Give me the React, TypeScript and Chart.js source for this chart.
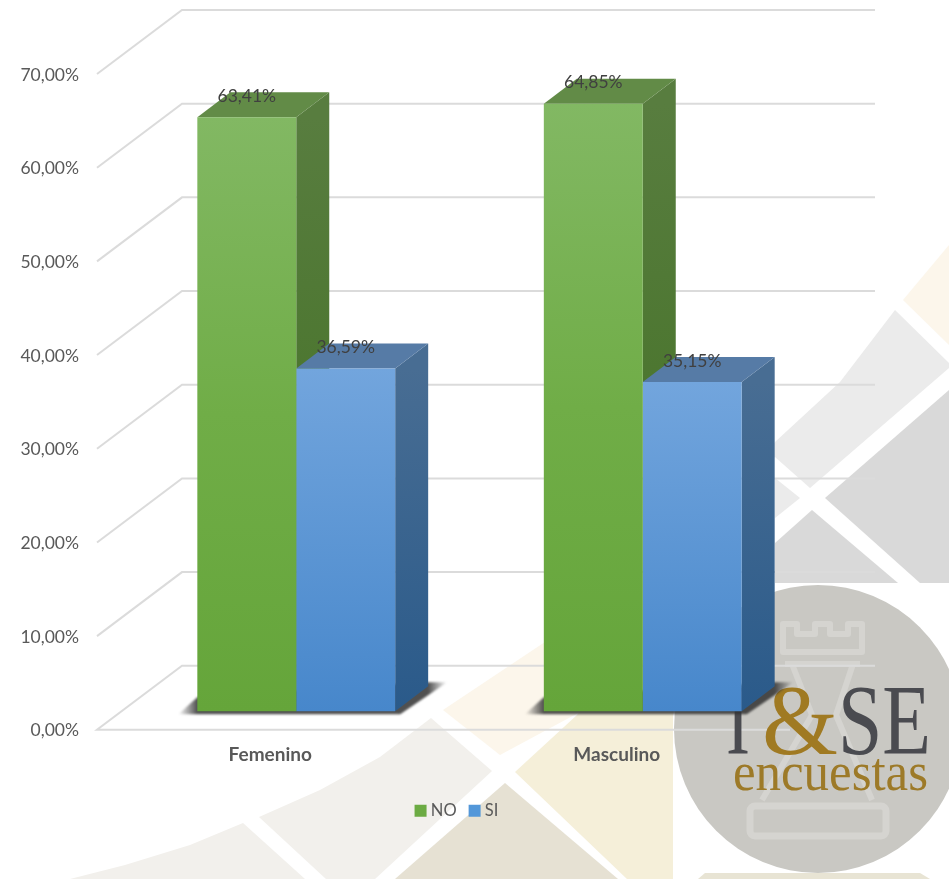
import React, { useEffect, useRef } from "react";
import { Chart, registerables } from "chart.js";

Chart.register(...registerables);

const categories = ["Femenino", "Masculino"];
const noValues = [63.41, 64.85];
const siValues = [36.59, 35.15];
const seriesNames = ["NO", "SI"];
const yTicksMax = 70;
const yTicksStep = 10;

const FONT = "Lato, 'Open Sans', sans-serif";
const GRID = "#dbdbdb";
const WALL_DX = 85;
const WALL_DY = -64;
const FRONT_DX = 26;
const FRONT_DY = -18.5;
const DEPTH_DX = 33;
const DEPTH_DY = -25;

const pct = (v: number) => v.toFixed(2).replace(".", ",") + "%";

type Shape = { color: string; pts: number[][] };
const decor: Shape[] = [
  { color: "#f2f0ec", pts: [[70, 879], [125, 865], [190, 845], [243, 823], [305, 879]] },
  { color: "#f2f0ec", pts: [[259, 817], [320, 790], [380, 757], [431, 718], [492, 771], [375, 879], [326, 879]] },
  { color: "#fcf6eb", pts: [[443, 710], [548, 640], [620, 640], [580, 712], [500, 755]] },
  { color: "#f5efd9", pts: [[515, 772], [577, 715], [620, 660], [673, 660], [673, 879], [627, 879]] },
  { color: "#e6e1d3", pts: [[505, 783], [618, 879], [395, 879]] },
  { color: "#fcf6eb", pts: [[903, 300], [949, 245], [949, 345]] },
  { color: "#ebebeb", pts: [[895, 310], [840, 382], [775, 442], [760, 470], [775, 457], [810, 488], [949, 368], [949, 363]] },
  { color: "#ebebeb", pts: [[775, 478], [800, 498], [775, 518]] },
  { color: "#d9d9d9", pts: [[825, 498], [949, 390], [949, 583], [920, 583]] },
  { color: "#d9d9d9", pts: [[775, 543], [812, 510], [898, 583], [775, 583]] },
  { color: "#e8e4d4", pts: [[705, 873], [920, 873], [930, 879], [698, 879]] },
];

function drawBackground(ctx: CanvasRenderingContext2D) {
  ctx.save();
  ctx.fillStyle = "#ffffff";
  ctx.fillRect(0, 0, 949, 879);
  for (const s of decor) {
    ctx.fillStyle = s.color;
    ctx.beginPath();
    s.pts.forEach((p, i) => (i ? ctx.lineTo(p[0], p[1]) : ctx.moveTo(p[0], p[1])));
    ctx.closePath();
    ctx.fill();
  }
  // logo disc on its white square
  ctx.fillStyle = "#ffffff";
  ctx.fillRect(673, 583, 276, 290);
  ctx.fillStyle = "#c9c8c3";
  ctx.beginPath();
  ctx.arc(818, 729, 144, 0, Math.PI * 2);
  ctx.fill();
  // rook watermark
  ctx.strokeStyle = "#d5d4d0";
  ctx.lineWidth = 6;
  ctx.lineJoin = "round";
  ctx.beginPath();
  ctx.moveTo(783, 624);
  ctx.lineTo(797, 624);
  ctx.lineTo(797, 634);
  ctx.lineTo(815, 634);
  ctx.lineTo(815, 624);
  ctx.lineTo(830, 624);
  ctx.lineTo(830, 634);
  ctx.lineTo(848, 634);
  ctx.lineTo(848, 624);
  ctx.lineTo(862, 624);
  ctx.lineTo(862, 652);
  ctx.lineTo(783, 652);
  ctx.closePath();
  ctx.stroke();
  ctx.beginPath();
  ctx.moveTo(785, 664);
  ctx.lineTo(860, 664);
  ctx.moveTo(792, 664);
  ctx.lineTo(812, 715);
  ctx.lineTo(762, 800);
  ctx.moveTo(853, 664);
  ctx.lineTo(836, 715);
  ctx.lineTo(872, 800);
  ctx.stroke();
  ctx.lineWidth = 7;
  ctx.beginPath();
  ctx.roundRect(750, 806, 136, 30, 5);
  ctx.stroke();
  ctx.restore();
}

function drawLogoText(ctx: CanvasRenderingContext2D) {
  ctx.save();
  ctx.textBaseline = "alphabetic";
  ctx.textAlign = "left";
  ctx.font = "100px 'Liberation Serif', serif";
  ctx.fillStyle = "#4a4b50";
  ctx.fillText("I", 726, 753, 24);
  ctx.fillText("SE", 838, 753, 93);
  ctx.fillStyle = "#a07a22";
  ctx.fillText("&", 762, 753, 76);
  ctx.font = "55px 'Liberation Serif', serif";
  ctx.fillStyle = "#9d7a28";
  ctx.fillText("encuestas", 733, 790, 195);
  ctx.restore();
}

function poly(ctx: CanvasRenderingContext2D, pts: number[][], fill: string | CanvasGradient) {
  ctx.fillStyle = fill;
  ctx.beginPath();
  pts.forEach((p, i) => (i ? ctx.lineTo(p[0], p[1]) : ctx.moveTo(p[0], p[1])));
  ctx.closePath();
  ctx.fill();
}

const faceStyles = [
  { top: "#628b47", sideA: "#587d3f", sideB: "#3f6f1f" },
  { top: "#567ba6", sideA: "#486d93", sideB: "#2a5a8a" },
];

const scene3d = {
  id: "scene3d",
  beforeDatasetsDraw(chart: any) {
    const ctx: CanvasRenderingContext2D = chart.ctx;
    const yScale = chart.scales.y;
    const xScale = chart.scales.x;
    ctx.save();
    ctx.lineWidth = 2;
    ctx.strokeStyle = GRID;
    yScale.ticks.forEach((_: any, i: number) => {
      const y = yScale.getPixelForTick(i);
      ctx.beginPath();
      if (i === 0) {
        ctx.moveTo(xScale.right, y);
        ctx.lineTo(xScale.left, y);
      } else {
        ctx.moveTo(xScale.left, y);
      }
      ctx.lineTo(xScale.left + WALL_DX, y + WALL_DY);
      ctx.lineTo(xScale.right + WALL_DX, y + WALL_DY);
      ctx.stroke();
    });
    ctx.restore();
    drawLogoText(ctx);

    ctx.save();
    ctx.translate(FRONT_DX, FRONT_DY);
    // floor shadows, one per category group
    const a = chart.getDatasetMeta(0).data;
    const b = chart.getDatasetMeta(1).data;
    a.forEach((el: any, i: number) => {
      const l = el.x - el.width / 2;
      const r = b[i].x + b[i].width / 2;
      const base = el.base;
      const g = ctx.createLinearGradient(l - 19, 0, r + 52, 0);
      const w = r + 52 - (l - 19);
      g.addColorStop(0, "rgba(50,50,50,0)");
      g.addColorStop(19 / w, "rgba(50,50,50,0.85)");
      g.addColorStop((w - 19) / w, "rgba(50,50,50,0.85)");
      g.addColorStop(1, "rgba(50,50,50,0)");
      ctx.save();
      ctx.filter = "blur(1px)";
      poly(ctx, [[l - 19, base + 3], [r + 5, base + 3], [r + 52, base - 29], [r + 33, base - 29], [l, base - 14]], g);
      ctx.restore();
    });
    // depth faces of every bar
    [0, 1].forEach((d) => {
      const st = faceStyles[d];
      chart.getDatasetMeta(d).data.forEach((el: any) => {
        const l = el.x - el.width / 2;
        const r = el.x + el.width / 2;
        const g = ctx.createLinearGradient(0, el.y, 0, el.base);
        g.addColorStop(0, st.sideA);
        g.addColorStop(1, st.sideB);
        poly(ctx, [[r, el.y], [r + DEPTH_DX, el.y + DEPTH_DY], [r + DEPTH_DX, el.base + DEPTH_DY], [r, el.base]], g);
        poly(ctx, [[l, el.y], [r, el.y], [r + DEPTH_DX, el.y + DEPTH_DY], [l + DEPTH_DX, el.y + DEPTH_DY]], st.top);
      });
    });
  },
  afterDatasetsDraw(chart: any) {
    const ctx: CanvasRenderingContext2D = chart.ctx;
    ctx.restore();
    ctx.save();
    ctx.font = "17.5px " + FONT;
    ctx.fillStyle = "#404040";
    ctx.textAlign = "center";
    ctx.textBaseline = "middle";
    chart.data.datasets.forEach((ds: any, d: number) => {
      chart.getDatasetMeta(d).data.forEach((el: any, i: number) => {
        ctx.fillText(pct(ds.data[i]), el.x + FRONT_DX, el.y + FRONT_DY - 21);
      });
    });
    ctx.restore();
  },
};

const sceneBackground = {
  id: "sceneBackground",
  beforeDraw(chart: any) {
    drawBackground(chart.ctx);
  },
  afterLayout(chart: any) {
    // legend sits right of the plot centre
    const shift = 63.5;
    chart.legend.left += shift;
    chart.legend.right += shift;
  },
};

function faceGradient(c: any, stops: [number, string][], flat: string) {
  if (c.type !== "data" || c.parsed == null) return flat;
  const yScale = c.chart.scales.y;
  const y0 = yScale.getPixelForValue(c.parsed.y);
  const y1 = yScale.getPixelForValue(0);
  if (!Number.isFinite(y0) || !Number.isFinite(y1)) return flat;
  const g = c.chart.ctx.createLinearGradient(0, y0, 0, y1);
  stops.forEach(([o, col]) => g.addColorStop(o, col));
  return g;
}

const legendColors = ["#6cab43", "#5397d9"];

export default function App() {
  const ref = useRef<HTMLCanvasElement | null>(null);
  useEffect(() => {
    if (!ref.current) return;
    const chart = new Chart(ref.current, {
      type: "bar",
      data: {
        labels: categories,
        datasets: [
          {
            label: seriesNames[0],
            data: noValues,
            backgroundColor: (c: any) =>
              faceGradient(c, [[0, "#82b863"], [0.5, "#70ad47"], [1, "#65a53a"]], legendColors[0]),
            clip: false,
          },
          {
            label: seriesNames[1],
            data: siValues,
            backgroundColor: (c: any) =>
              faceGradient(c, [[0, "#72a5dd"], [1, "#4787cb"]], legendColors[1]),
            clip: false,
          },
        ],
      } as any,
      plugins: [sceneBackground, scene3d] as any,
      options: {
        responsive: false,
        animation: false,
        layout: { padding: { left: 0, right: 159, top: 74, bottom: 50.1 } },
        datasets: { bar: { barPercentage: 1, categoryPercentage: 0.571 } },
        plugins: {
          tooltip: { enabled: false },
          title: { display: false },
          legend: {
            display: true,
            position: "bottom",
            labels: {
              boxWidth: 4,
              boxHeight: 4,
              padding: 16,
              color: "#595959",
              font: { family: FONT, size: 16.5 },
              generateLabels: (chart: any) =>
                chart.data.datasets.map((ds: any, i: number) => ({
                  text: ds.label,
                  fillStyle: legendColors[i],
                  strokeStyle: legendColors[i],
                  lineWidth: 8,
                  fontColor: "#595959",
                  datasetIndex: i,
                  hidden: false,
                })),
            },
          },
        },
        scales: {
          x: {
            afterFit(s: any) {
              s.height = 56.6;
            },
            grid: { display: false, drawTicks: false },
            border: { display: false },
            ticks: {
              padding: 14,
              color: "#595959",
              font: { family: FONT, size: 19, weight: "bold" },
            },
          },
          y: {
            min: 0,
            max: yTicksMax,
            afterFit(s: any) {
              s.width = 97;
            },
            grid: { display: false, drawTicks: false },
            border: { display: false },
            ticks: {
              stepSize: yTicksStep,
              padding: 18,
              labelOffset: 1,
              color: "#595959",
              font: { family: FONT, size: 17.5 },
              callback: (v: any) => pct(Number(v)),
            },
          },
        },
      } as any,
    });
    return () => chart.destroy();
  }, []);
  return (
    <div style={{ position: "absolute", left: 0, top: 0, width: 949, height: 879 }}>
      <canvas ref={ref} width={949} height={879} style={{ display: "block" }} />
    </div>
  );
}
